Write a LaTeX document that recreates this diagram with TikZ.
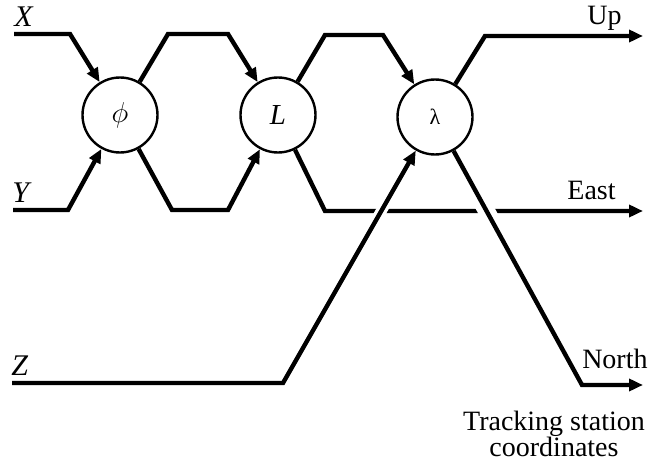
\documentclass[tikz,border=0pt]{standalone}
\usepackage{fontspec}
\setmainfont{Liberation Serif}
\usetikzlibrary{arrows.meta}

\tikzset{
	sig/.style={line width=2.2pt, line join=miter},
	sigarrow/.style={sig, -{Triangle[length=7pt,width=6pt]}},
	rot/.style={circle, draw, line width=1.2pt, minimum size=37.5pt, inner sep=0pt, fill=white},
	lbl/.style={inner sep=0pt, font=\fontsize{14}{13}\selectfont},
	inlbl/.style={inner sep=0pt, font=\fontsize{15}{13}\selectfont},
}

\begin{document}
\begin{tikzpicture}[x=0.5pt,y=-0.5pt]
	\useasboundingbox (0,0) rectangle (649,465);

	% the three rotations
	\node [rot, font=\fontsize{15}{16}\selectfont] (phi) at (120,115) {$\phi$};
	\node [rot, font=\fontsize{14.5}{16}\selectfont] (L) at (278,115) {\textit{L}};
	\node [rot, font=\fontsize{11}{12}\selectfont] (lam) at (435,117) {λ};

	% free ends and bends of the signal lines
	\foreach \n/\x/\y in {xin/14/34, xc/70/34, yin/13/210, yc/68/210,
		a1/168/34, a2/228/34, b1/172/210, b2/228/210,
		c1/325/35, c2/383/35, d1/325/211, eastout/643/211,
		e1/485/36, upout/643/36, zin/12/383, zc/283/383,
		nc/582/385, northout/643/385}
	{
		\coordinate (\n) at (\x,\y);
	}

	\draw [sigarrow] (xin) -- (xc) -- (phi);
	\draw [sigarrow] (yin) -- (yc) -- (phi);
	\draw [sigarrow] (phi) -- (a1) -- (a2) -- (L);
	\draw [sigarrow] (phi) -- (b1) -- (b2) -- (L);
	\draw [sigarrow] (L) -- (c1) -- (c2) -- (lam);
	\draw [sigarrow] (L) -- (d1) -- (eastout);
	\draw [sigarrow] (lam) -- (e1) -- (upout);

	% these two cross over the East line
	\draw [sigarrow, preaction={draw=white, -, line width=5.5pt, shorten >=20pt}] (zin) -- (zc) -- (lam);
	\draw [sigarrow, preaction={draw=white, -, line width=8.5pt, shorten <=20pt}] (lam) -- (nc) -- (northout);

	% labels
	\node [inlbl, anchor=base west] (xlab) at (14,27) {\textit{X}};
	\node [inlbl, anchor=base west] (ylab) at (12,203) {\textit{Y}};
	\node [inlbl, anchor=base west] (zlab) at (11,375) {\textit{Z}};
	\node [lbl, anchor=base east] (uplab) at (622,25) {Up};
	\node [lbl, anchor=base east] (eastlab) at (616,200) {East};
	\node [lbl, anchor=base east] (northlab) at (648,368) {North};
	\node [lbl, align=center, anchor=north] (track) at (554,411) {Tracking station\\coordinates};

\end{tikzpicture}
\end{document}
